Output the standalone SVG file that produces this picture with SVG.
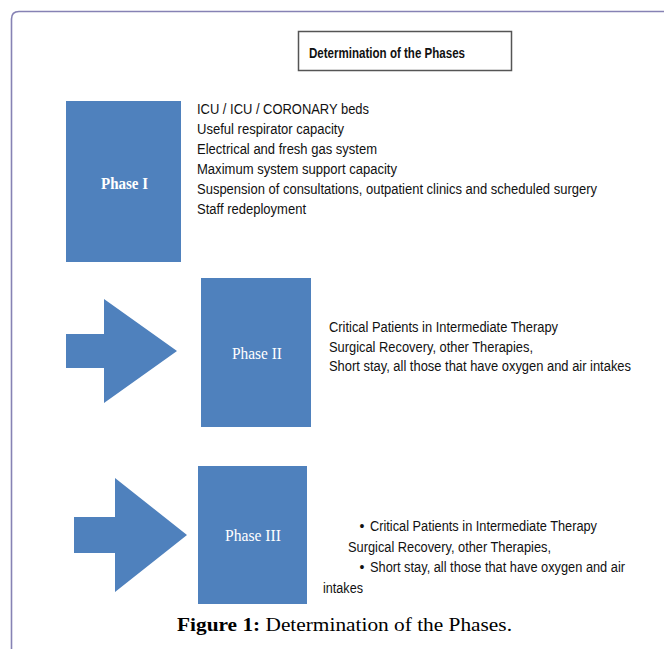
<svg xmlns="http://www.w3.org/2000/svg" width="664" height="649" viewBox="0 0 664 649">
  <style>
    .box { fill: #4f81bd; }
    .plabel { font-family: "Liberation Serif", "DejaVu Serif", serif; font-size: 17px; fill: #ffffff; text-anchor: middle; }
    .body { font-family: "Liberation Sans", Arial, sans-serif; font-size: 14px; fill: #111111; }
    .title { font-family: "Liberation Sans", Arial, sans-serif; font-size: 14px; font-weight: bold; fill: #111111; }
    .cap { font-family: "Liberation Serif", "Times New Roman", serif; font-size: 19px; fill: #000000; }
  </style>
  <rect width="664" height="649" fill="#ffffff"/>
  <path d="M11.5,649 V19 Q11.5,11.5 19,11.5 H664" fill="none" stroke="#8682b4" stroke-width="1.6"/>

  <g id="title">
    <rect x="298.5" y="31.5" width="213" height="39" fill="#ffffff" stroke="#555555" stroke-width="1.5"/>
    <text class="title" x="309" y="58" textLength="156" lengthAdjust="spacingAndGlyphs">Determination of the Phases</text>
  </g>

  <g id="connectors">
    <polygon class="box" points="66,334 104,334 104,299 177,351 104,403 104,368 66,368"/>
    <polygon class="box" points="74,517 115,517 115,478 187,535 115,592 115,553 74,553"/>
  </g>

  <g id="phase1">
    <rect class="box" x="66" y="101" width="115" height="161"/>
    <text class="plabel" x="124.5" y="189" font-weight="bold" textLength="47" lengthAdjust="spacingAndGlyphs">Phase I</text>
    <text class="body" x="197" y="114" textLength="172" lengthAdjust="spacingAndGlyphs">ICU / ICU / CORONARY beds</text>
    <text class="body" x="197" y="134" textLength="147" lengthAdjust="spacingAndGlyphs">Useful respirator capacity</text>
    <text class="body" x="197" y="154" textLength="180" lengthAdjust="spacingAndGlyphs">Electrical and fresh gas system</text>
    <text class="body" x="197" y="174" textLength="200" lengthAdjust="spacingAndGlyphs">Maximum system support capacity</text>
    <text class="body" x="197" y="194" textLength="400" lengthAdjust="spacingAndGlyphs">Suspension of consultations, outpatient clinics and scheduled surgery</text>
    <text class="body" x="197" y="214" textLength="109" lengthAdjust="spacingAndGlyphs">Staff redeployment</text>
  </g>

  <g id="phase2">
    <rect class="box" x="201" y="278" width="110" height="149"/>
    <text class="plabel" x="257" y="359" textLength="50" lengthAdjust="spacingAndGlyphs">Phase II</text>
    <text class="body" x="329" y="332" textLength="229" lengthAdjust="spacingAndGlyphs">Critical Patients in Intermediate Therapy</text>
    <text class="body" x="329" y="351.5" textLength="204" lengthAdjust="spacingAndGlyphs">Surgical Recovery, other Therapies,</text>
    <text class="body" x="329" y="371" textLength="302" lengthAdjust="spacingAndGlyphs">Short stay, all those that have oxygen and air intakes</text>
  </g>

  <g id="phase3">
    <rect class="box" x="198" y="466" width="109" height="138"/>
    <text class="plabel" x="253" y="541" textLength="56" lengthAdjust="spacingAndGlyphs">Phase III</text>
    <text class="body" x="362" y="531" text-anchor="middle">•</text>
    <text class="body" x="370" y="531" textLength="227" lengthAdjust="spacingAndGlyphs">Critical Patients in Intermediate Therapy</text>
    <text class="body" x="348" y="552" textLength="203" lengthAdjust="spacingAndGlyphs">Surgical Recovery, other Therapies,</text>
    <text class="body" x="362" y="572" text-anchor="middle">•</text>
    <text class="body" x="370" y="572" textLength="255" lengthAdjust="spacingAndGlyphs">Short stay, all those that have oxygen and air</text>
    <text class="body" x="323" y="593" textLength="40" lengthAdjust="spacingAndGlyphs">intakes</text>
  </g>

  <text class="cap" x="177" y="631" textLength="335" lengthAdjust="spacingAndGlyphs"><tspan font-weight="bold">Figure 1:</tspan> Determination of the Phases.</text>
</svg>
